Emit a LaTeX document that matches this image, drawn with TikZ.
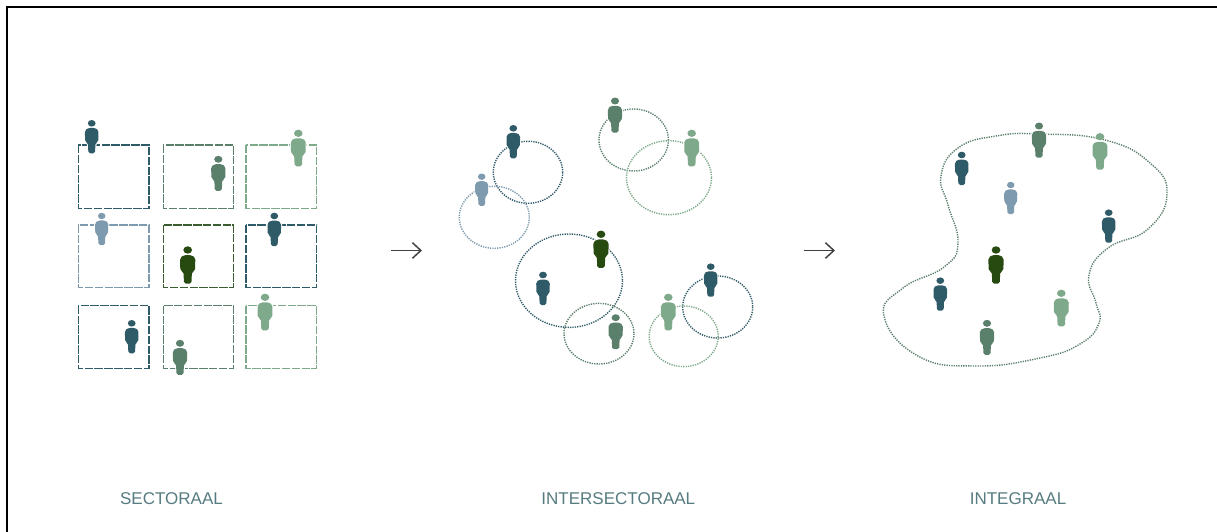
\documentclass[tikz,border=0pt]{standalone}
\usepackage{fontspec}
\setmainfont{Liberation Sans}
\usetikzlibrary{arrows.meta}
\definecolor{teal1}{HTML}{2F5A68}
\definecolor{midgreen}{HTML}{5A7F6A}
\definecolor{lightgreen}{HTML}{7EA98A}
\definecolor{greyblue}{HTML}{7D9AAE}
\definecolor{darkgreen}{HTML}{274A10}
\definecolor{labelcol}{HTML}{567B80}
\tikzset{
  kader/.style = {draw = #1, line width = .85pt, dash pattern = on 6pt off 1pt},
  kring/.style = {draw = #1, line width = 1pt, dash pattern = on .9pt off .8pt},
  pijl/.style = {->, >= {Straight Barb[length = 6pt, width = 11pt]}, line width = 1.05pt, draw = black!75},
  sectie/.style = {text = labelcol, font = \fontsize{12.1}{14}\selectfont}
}
\newcommand{\person}[4]{
  \begin{scope}[shift = {(#1,#2)}, scale = #4]
    \path[fill = #3, preaction = {draw = white, line width = 1.4pt}, rounded corners = 1.2]
      (-3.5,4.6) -- (3.5,4.6) -- (6.8,7) -- (6.6,18.5) -- (3.8,19.5) -- (3.3,30) -- (-3.3,30) -- (-3.8,19.5) -- (-6.6,18.5) -- (-6.8,7) -- cycle;
    \path[fill = #3] (0,0) ellipse (3.9 and 3.3);
  \end{scope}
}
\begin{document}
\begin{tikzpicture} [x = .025cm, y = -.025cm]
  \useasboundingbox (0,0) rectangle (1217,532);
  \coordinate (framebl) at (7,532);
  \coordinate (frametl) at (7,7);
  \coordinate (frametr) at (1217,7);
  \draw[line width = 1.45pt] (framebl) -- (frametl) -- (frametr);

  \draw[kader = teal1] (78.3,145) rectangle (149,208.3);
  \draw[kader = midgreen] (163.3,145) rectangle (233.3,208.3);
  \draw[kader = lightgreen] (246,145) rectangle (316.7,208.3);
  \draw[kader = greyblue] (78.3,225) rectangle (149,287.3);
  \draw[kader = darkgreen!65!midgreen] (163.3,225) rectangle (233.3,287.3);
  \draw[kader = teal1] (246,225) rectangle (316.7,287.3);
  \draw[kader = teal1] (78.3,305.7) rectangle (149,368.3);
  \draw[kader = midgreen] (163.3,305.7) rectangle (233.3,368.3);
  \draw[kader = lightgreen] (246,305.7) rectangle (316.7,368.3);

  \person{91.7}{123.3}{teal1}{1}
  \person{218.3}{159.3}{midgreen}{1.05}
  \person{298.3}{133.3}{lightgreen}{1.1}
  \person{101.7}{216}{greyblue}{.97}
  \person{187.7}{250}{darkgreen}{1.12}
  \person{274.3}{216}{teal1}{1}
  \person{131.7}{323.3}{teal1}{1}
  \person{180}{343.3}{midgreen}{1.05}
  \person{265}{297.3}{lightgreen}{1.1}

  \coordinate (pijl1a) at (391,250.5);
  \coordinate (pijl1b) at (422,250.5);
  \draw[pijl] (pijl1a) -- (pijl1b);

  \draw[kring = teal1] (528,172.3) ellipse (34.7 and 31);
  \draw[kring = greyblue] (494.3,217.3) ellipse (35 and 31);
  \draw[kring = midgreen] (633.7,140) ellipse (34.7 and 31);
  \draw[kring = lightgreen] (669,177.7) ellipse (42.5 and 37);
  \draw[kring = teal1] (569,280.7) ellipse (53.5 and 46.7);
  \draw[kring = midgreen] (599,333.7) ellipse (35 and 30.3);
  \draw[kring = teal1] (717.7,307) ellipse (35 and 31);
  \draw[kring = lightgreen] (683.7,336.3) ellipse (34.5 and 30.3);

  \person{513.3}{128.3}{teal1}{1}
  \person{481.7}{176.7}{greyblue}{.97}
  \person{615}{101}{midgreen}{1.05}
  \person{691.7}{133.3}{lightgreen}{1.1}
  \person{601}{234.3}{darkgreen}{1.12}
  \person{543}{275}{teal1}{1}
  \person{615.7}{317.7}{midgreen}{1.05}
  \person{710.7}{266.7}{teal1}{1}
  \person{668.3}{297.3}{lightgreen}{1.1}

  \coordinate (pijl2a) at (804,250.5);
  \coordinate (pijl2b) at (835,250.5);
  \draw[pijl] (pijl2a) -- (pijl2b);

  \draw[kring = midgreen] plot [smooth cycle, tension = .8] coordinates {(1040,134) (1105,140) (1150,163) (1167,194) (1148,229) (1108,248) (1089,275) (1096,303) (1099,323) (1080,344) (1040,358) (975,366) (918,356) (884,316) (903,288) (944,267) (958,243) (948,205) (941,176) (958,148) (996,136)};

  \person{961.7}{155}{teal1}{1}
  \person{1039}{126}{midgreen}{1.05}
  \person{1100}{136.7}{lightgreen}{1.1}
  \person{1010.7}{185}{greyblue}{.97}
  \person{1108.7}{212.7}{teal1}{1}
  \person{996}{250}{darkgreen}{1.12}
  \person{940.3}{280.7}{teal1}{1}
  \person{1061.3}{293.3}{lightgreen}{1.1}
  \person{987}{323.3}{midgreen}{1.05}

  \node[sectie] (sectoraal) at (171.5,499) {SECTORAAL};
  \node[sectie] (intersectoraal) at (618.3,499) {INTERSECTORAAL};
  \node[sectie] (integraal) at (1018,499) {INTEGRAAL};
\end{tikzpicture}
\end{document}
